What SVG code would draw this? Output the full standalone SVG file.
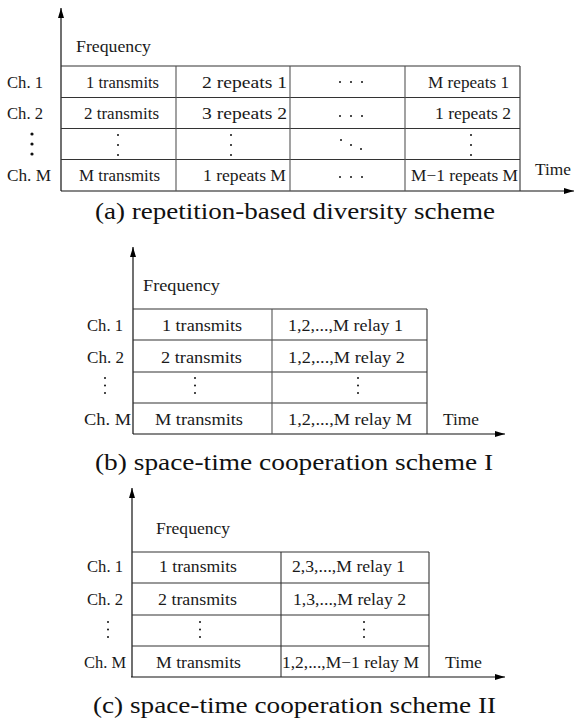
<svg xmlns="http://www.w3.org/2000/svg" width="575" height="724" viewBox="0 0 575 724" font-family="'Liberation Serif', 'Times New Roman', Times, serif">
<defs>
<marker id="arr" viewBox="0 0 10 6" refX="10" refY="3" markerWidth="10" markerHeight="6" markerUnits="userSpaceOnUse" orient="auto">
<path d="M0,0 L10,3 L0,6 Z" fill="#000"/>
</marker>
<style>
.ax{stroke:#111;stroke-width:1.2;fill:none}
.gl{stroke:#333;stroke-width:1.1;fill:none}
.vl{stroke:#555;stroke-width:1.1;fill:none}
text{font-family:'Liberation Serif','Times New Roman',Times,serif;fill:#1a1a1a}
.t{font-size:16px}
.f{font-size:17px}
.cap{font-size:24px;fill:#111}
.d{fill:#111}
</style>
</defs>

<g id="panel-a">
<g id="a-axes">
<line class="ax" x1="61" y1="191" x2="61" y2="8" marker-end="url(#arr)"/>
<line class="ax" x1="61" y1="191" x2="574" y2="191" marker-end="url(#arr)"/>
</g>
<g id="a-grid">
<line class="gl" x1="61" y1="66" x2="520" y2="66"/>
<line class="gl" x1="61" y1="97.5" x2="520" y2="97.5"/>
<line class="gl" x1="61" y1="128.5" x2="520" y2="128.5"/>
<line class="gl" x1="61" y1="159.5" x2="520" y2="159.5"/>
<line class="vl" x1="176" y1="66" x2="176" y2="191"/>
<line class="vl" x1="290" y1="66" x2="290" y2="191"/>
<line class="vl" x1="405" y1="66" x2="405" y2="191"/>
<line class="gl" x1="520" y1="66" x2="520" y2="191"/>
</g>
<g id="a-labels">
<text class="f" x="76" y="52" textLength="75" lengthAdjust="spacingAndGlyphs">Frequency</text>
<text class="t" x="7" y="88" textLength="36" lengthAdjust="spacingAndGlyphs">Ch. 1</text>
<text class="t" x="7" y="119" textLength="36" lengthAdjust="spacingAndGlyphs">Ch. 2</text>
<text class="t" x="7" y="181" textLength="44" lengthAdjust="spacingAndGlyphs">Ch. M</text>
<circle class="d" cx="32" cy="134" r="1.6"/><circle class="d" cx="32" cy="144" r="1.6"/><circle class="d" cx="32" cy="154" r="1.6"/>
<text class="t" x="535" y="175" textLength="36" lengthAdjust="spacingAndGlyphs">Time</text>
</g>
<g id="a-cells">
<text class="t" x="86" y="88" textLength="73" lengthAdjust="spacingAndGlyphs">1 transmits</text>
<text class="t" x="84" y="119" textLength="75" lengthAdjust="spacingAndGlyphs">2 transmits</text>
<text class="t" x="79" y="181" textLength="81" lengthAdjust="spacingAndGlyphs">M transmits</text>
<text class="t" x="202" y="88" textLength="85" lengthAdjust="spacingAndGlyphs">2 repeats  1</text>
<text class="t" x="202" y="119" textLength="85" lengthAdjust="spacingAndGlyphs">3 repeats  2</text>
<text class="t" x="203" y="181" textLength="83" lengthAdjust="spacingAndGlyphs">1 repeats  M</text>
<text class="t" x="428" y="88" textLength="81" lengthAdjust="spacingAndGlyphs">M repeats  1</text>
<text class="t" x="435" y="119" textLength="76" lengthAdjust="spacingAndGlyphs">1 repeats  2</text>
<text class="t" x="411" y="181" textLength="107" lengthAdjust="spacingAndGlyphs">M−1 repeats  M</text>
<circle class="d" cx="118" cy="135" r="1"/><circle class="d" cx="118" cy="145" r="1"/><circle class="d" cx="118" cy="155" r="1"/>
<circle class="d" cx="231" cy="135" r="1"/><circle class="d" cx="231" cy="145" r="1"/><circle class="d" cx="231" cy="155" r="1"/>
<circle class="d" cx="471" cy="135" r="1"/><circle class="d" cx="471" cy="145" r="1"/><circle class="d" cx="471" cy="155" r="1"/>
<circle class="d" cx="340" cy="82" r="1"/><circle class="d" cx="351" cy="82" r="1"/><circle class="d" cx="362" cy="82" r="1"/>
<circle class="d" cx="340" cy="116" r="1"/><circle class="d" cx="351" cy="116" r="1"/><circle class="d" cx="362" cy="116" r="1"/>
<circle class="d" cx="340" cy="177" r="1"/><circle class="d" cx="351" cy="177" r="1"/><circle class="d" cx="362" cy="177" r="1"/>
<circle class="d" cx="341" cy="140" r="1"/><circle class="d" cx="351" cy="145" r="1"/><circle class="d" cx="361" cy="149" r="1"/>
</g>
<text id="cap-a" class="cap" x="95" y="219" textLength="400" lengthAdjust="spacingAndGlyphs">(a) repetition-based diversity scheme</text>
</g>

<g id="panel-b">
<g id="b-axes">
<line class="ax" x1="133" y1="434" x2="133" y2="247" marker-end="url(#arr)"/>
<line class="ax" x1="133" y1="434" x2="505" y2="434" marker-end="url(#arr)"/>
</g>
<g id="b-grid">
<line class="gl" x1="133" y1="309" x2="427" y2="309"/>
<line class="gl" x1="133" y1="340" x2="427" y2="340"/>
<line class="gl" x1="133" y1="372" x2="427" y2="372"/>
<line class="gl" x1="133" y1="403" x2="427" y2="403"/>
<line class="vl" x1="272" y1="309" x2="272" y2="434"/>
<line class="gl" x1="427" y1="309" x2="427" y2="434"/>
</g>
<g id="b-labels">
<text class="f" x="143" y="291" textLength="77" lengthAdjust="spacingAndGlyphs">Frequency</text>
<text class="t" x="87" y="331" textLength="36" lengthAdjust="spacingAndGlyphs">Ch. 1</text>
<text class="t" x="87" y="363" textLength="37" lengthAdjust="spacingAndGlyphs">Ch. 2</text>
<text class="t" x="84" y="425" textLength="47" lengthAdjust="spacingAndGlyphs">Ch. M</text>
<circle class="d" cx="105" cy="378" r="1"/><circle class="d" cx="105" cy="385.5" r="1"/><circle class="d" cx="105" cy="393" r="1"/>
<text class="t" x="443" y="425" textLength="36" lengthAdjust="spacingAndGlyphs">Time</text>
</g>
<g id="b-cells">
<text class="t" x="162" y="331" textLength="80" lengthAdjust="spacingAndGlyphs">1 transmits</text>
<text class="t" x="161" y="363" textLength="81" lengthAdjust="spacingAndGlyphs">2 transmits</text>
<text class="t" x="155" y="425" textLength="88" lengthAdjust="spacingAndGlyphs">M transmits</text>
<text class="t" x="288" y="331" textLength="115" lengthAdjust="spacingAndGlyphs">1,2,...,M relay 1</text>
<text class="t" x="288" y="363" textLength="117" lengthAdjust="spacingAndGlyphs">1,2,...,M relay 2</text>
<text class="t" x="288" y="425" textLength="124" lengthAdjust="spacingAndGlyphs">1,2,...,M relay M</text>
<circle class="d" cx="195" cy="378" r="1"/><circle class="d" cx="195" cy="385.5" r="1"/><circle class="d" cx="195" cy="393" r="1"/>
<circle class="d" cx="358" cy="378" r="1"/><circle class="d" cx="358" cy="385.5" r="1"/><circle class="d" cx="358" cy="393" r="1"/>
</g>
<text id="cap-b" class="cap" x="95" y="470" textLength="398" lengthAdjust="spacingAndGlyphs">(b) space-time cooperation scheme I</text>
</g>

<g id="panel-c">
<g id="c-axes">
<line class="ax" x1="132" y1="677" x2="132" y2="488" marker-end="url(#arr)"/>
<line class="ax" x1="131" y1="677" x2="505" y2="677" marker-end="url(#arr)"/>
</g>
<g id="c-grid">
<line class="gl" x1="132" y1="552" x2="429" y2="552"/>
<line class="gl" x1="132" y1="583" x2="429" y2="583"/>
<line class="gl" x1="132" y1="615" x2="429" y2="615"/>
<line class="gl" x1="132" y1="646" x2="429" y2="646"/>
<line class="gl" x1="281" y1="552" x2="281" y2="677"/>
<line class="gl" x1="429" y1="552" x2="429" y2="677"/>
</g>
<g id="c-labels">
<text class="f" x="156" y="534" textLength="74" lengthAdjust="spacingAndGlyphs">Frequency</text>
<text class="t" x="87" y="572" textLength="36" lengthAdjust="spacingAndGlyphs">Ch. 1</text>
<text class="t" x="87" y="605" textLength="36" lengthAdjust="spacingAndGlyphs">Ch. 2</text>
<text class="t" x="84" y="668" textLength="42" lengthAdjust="spacingAndGlyphs">Ch. M</text>
<circle class="d" cx="108" cy="622" r="1"/><circle class="d" cx="108" cy="629.5" r="1"/><circle class="d" cx="108" cy="637" r="1"/>
<text class="t" x="445" y="668" textLength="37" lengthAdjust="spacingAndGlyphs">Time</text>
</g>
<g id="c-cells">
<text class="t" x="159" y="572" textLength="78" lengthAdjust="spacingAndGlyphs">1 transmits</text>
<text class="t" x="158" y="605" textLength="79" lengthAdjust="spacingAndGlyphs">2 transmits</text>
<text class="t" x="156" y="668" textLength="85" lengthAdjust="spacingAndGlyphs">M transmits</text>
<text class="t" x="292" y="572" textLength="113" lengthAdjust="spacingAndGlyphs">2,3,...,M relay 1</text>
<text class="t" x="293" y="605" textLength="113" lengthAdjust="spacingAndGlyphs">1,3,...,M relay 2</text>
<text class="t" x="282" y="668" textLength="137" lengthAdjust="spacingAndGlyphs">1,2,...,M−1 relay M</text>
<circle class="d" cx="200" cy="622" r="1"/><circle class="d" cx="200" cy="629.5" r="1"/><circle class="d" cx="200" cy="637" r="1"/>
<circle class="d" cx="364" cy="622" r="1"/><circle class="d" cx="364" cy="629.5" r="1"/><circle class="d" cx="364" cy="637" r="1"/>
</g>
<text id="cap-c" class="cap" x="93" y="713" textLength="403" lengthAdjust="spacingAndGlyphs">(c) space-time cooperation scheme II</text>
</g>
</svg>
